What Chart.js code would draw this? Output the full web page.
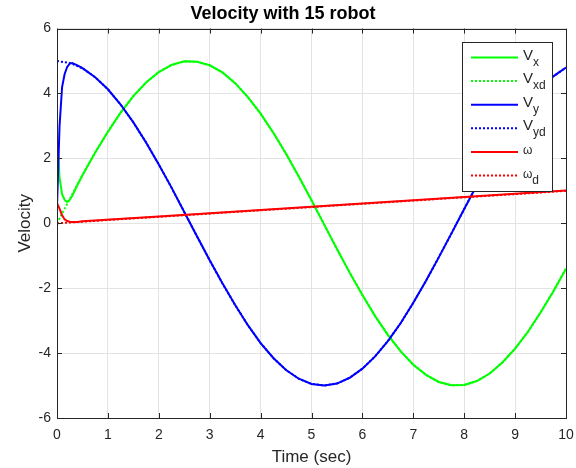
<!DOCTYPE html>
<html>
<head>
<meta charset="utf-8">
<script src="https://cdn.jsdelivr.net/npm/chart.js@4.4.1/dist/chart.umd.min.js"></script>
<style>
  html, body { margin: 0; padding: 0; background: #fff; }
  #wrap { width: 576px; height: 468px; }
</style>
</head>
<body>
<div id="wrap"><canvas id="velChart" width="576" height="468"></canvas></div>
<script>
// Reference trajectories, sampled every 0.25 s
const timeMain = [0, 0.25, 0.5, 0.75, 1, 1.25, 1.5, 1.75, 2, 2.25, 2.5, 2.75, 3, 3.25, 3.5, 3.75, 4, 4.25, 4.5, 4.75,
  5, 5.25, 5.5, 5.75, 6, 6.25, 6.5, 6.75, 7, 7.25, 7.5, 7.75, 8, 8.25, 8.5, 8.75, 9, 9.25, 9.5, 9.75, 10];
const vxdValues = [0, 0.75, 1.48, 2.18, 2.82, 3.41, 3.92, 4.34, 4.66, 4.88, 4.99, 4.98, 4.87, 4.65, 4.32, 3.89, 3.38,
  2.79, 2.14, 1.44, 0.71, -0.04, -0.79, -1.52, -2.21, -2.86, -3.44, -3.94, -4.36, -4.67, -4.89, -4.99, -4.98, -4.86,
  -4.63, -4.29, -3.86, -3.35, -2.75, -2.10, -1.40];
const vydValues = [5, 4.94, 4.78, 4.50, 4.13, 3.66, 3.11, 2.49, 1.81, 1.10, 0.35, -0.40, -1.14, -1.85, -2.52, -3.14,
  -3.69, -4.15, -4.52, -4.79, -4.95, -5.00, -4.94, -4.76, -4.48, -4.10, -3.63, -3.08, -2.45, -1.77, -1.05, -0.31, 0.44,
  1.18, 1.89, 2.56, 3.17, 3.72, 4.17, 4.53, 4.80];

// Start-up transient of the actual robot velocities
const timeStart = [0, 0.02, 0.05, 0.1, 0.15, 0.2, 0.25, 0.3, 0.4];
const vxStart = [3.0, 2.2, 1.4, 0.9, 0.72, 0.66, 0.72, 0.85, 1.18];
const vyStart = [0.5, 1.5, 3.0, 4.2, 4.6, 4.82, 4.92, 4.94, 4.87];
const wStart = [0.5, 0.55, 0.45, 0.25, 0.12, 0.07, 0.05, 0.04, 0.04];

// Angular velocity (nearly linear)
const timeOmega = [0.5, 2, 4, 6, 8, 10];
const wValues = [0.06, 0.21, 0.41, 0.61, 0.81, 1.01];
const timeOmegaRef = [0, 2, 4, 6, 8, 10];
const wdValues = [0, 0.2, 0.4, 0.6, 0.8, 1.0];

const xTicks = [0, 1, 2, 3, 4, 5, 6, 7, 8, 9, 10];
const yTicks = [-6, -4, -2, 0, 2, 4, 6];

const FONT = "'Liberation Sans', Arial, Helvetica, sans-serif";
const AXIS = '#262626';

function zip(ts, vs) {
  return ts.map((t, i) => ({ x: t, y: vs[i] }));
}

// actual = transient + main samples from 0.5 s on
function actual(startVals, mainVals) {
  const pts = zip(timeStart, startVals);
  timeMain.forEach((t, i) => { if (t >= 0.5) pts.push({ x: t, y: mainVals[i] }); });
  return pts;
}

const GREEN = '#00ff00', BLUE = '#0000ff', RED = '#ff0000';

const series = [
  { key: 'V', sub: 'x', color: GREEN, dash: [], data: actual(vxStart, vxdValues) },
  { key: 'V', sub: 'xd', color: GREEN, dash: [2, 2], data: zip(timeMain, vxdValues) },
  { key: 'V', sub: 'y', color: BLUE, dash: [], data: actual(vyStart, vydValues) },
  { key: 'V', sub: 'yd', color: BLUE, dash: [2, 2], data: zip(timeMain, vydValues) },
  { key: '\u03c9', sub: '', color: RED, dash: [], data: zip(timeStart, wStart).concat(zip(timeOmega, wValues)) },
  { key: '\u03c9', sub: 'd', color: RED, dash: [2, 2], data: zip(timeOmegaRef, wdValues) }
];

// box, inner ticks and legend, MATLAB style
const matlabAxes = {
  id: 'matlabAxes',
  afterDraw(chart) {
    const { ctx, chartArea: a, scales } = chart;
    ctx.save();
    ctx.strokeStyle = AXIS;
    ctx.lineWidth = 1;
    ctx.beginPath();
    xTicks.forEach(v => {
      const px = Math.round(scales.x.getPixelForValue(v)) + 0.5;
      ctx.moveTo(px, a.bottom); ctx.lineTo(px, a.bottom - 5);
      ctx.moveTo(px, a.top); ctx.lineTo(px, a.top + 5);
    });
    yTicks.forEach(v => {
      const py = Math.round(scales.y.getPixelForValue(v)) + 0.5;
      ctx.moveTo(a.left, py); ctx.lineTo(a.left + 5, py);
      ctx.moveTo(a.right, py); ctx.lineTo(a.right - 5, py);
    });
    ctx.stroke();
    ctx.strokeRect(Math.round(a.left) + 0.5, Math.round(a.top) + 0.5,
      Math.round(a.right - a.left), Math.round(a.bottom - a.top));

    // legend
    const bx = 462.5, by = 42.5, bw = 90, bh = 149;
    ctx.fillStyle = '#fff';
    ctx.fillRect(bx, by, bw, bh);
    ctx.strokeStyle = AXIS;
    ctx.strokeRect(bx, by, bw, bh);
    series.forEach((s, i) => {
      const y = 57.5 + i * 23.6;
      ctx.strokeStyle = s.color;
      ctx.lineWidth = 2;
      ctx.setLineDash(s.dash);
      ctx.beginPath();
      ctx.moveTo(471, y); ctx.lineTo(518, y);
      ctx.stroke();
      ctx.setLineDash([]);
      ctx.fillStyle = AXIS;
      ctx.textBaseline = 'alphabetic';
      ctx.textAlign = 'left';
      let tx = 523;
      if (s.key === 'V') {
        ctx.font = '15px ' + FONT;
        ctx.fillText('V', tx, y + 2);
        tx += ctx.measureText('V').width;
      } else {
        ctx.font = '12px ' + FONT;
        ctx.fillText(s.key, tx, y + 2);
        tx += ctx.measureText(s.key).width;
      }
      if (s.sub) {
        ctx.font = '12px ' + FONT;
        ctx.fillText(s.sub, tx, y + 8);
      }
    });
    ctx.restore();
  }
};

new Chart(document.getElementById('velChart'), {
  type: 'line',
  data: {
    datasets: series.map((s, i) => ({
      label: s.key + s.sub,
      data: s.data,
      borderColor: s.color,
      borderWidth: 2,
      borderDash: s.dash,
      pointRadius: 0,
      fill: false,
      tension: 0,
      order: series.length - i
    }))
  },
  options: {
    responsive: false,
    animation: false,
    layout: { padding: { left: 0, right: 10, top: 0, bottom: 0 } },
    plugins: {
      legend: { display: false },
      tooltip: { enabled: false },
      title: {
        display: true,
        text: 'Velocity with 15 robot',
        color: '#000',
        font: { family: FONT, size: 18, weight: 'bold' },
        padding: { top: 3, bottom: 4 }
      }
    },
    scales: {
      x: {
        type: 'linear',
        min: 0, max: 10,
        ticks: { stepSize: 1, color: AXIS, font: { family: FONT, size: 14 }, padding: 9, maxRotation: 0 },
        grid: { color: '#e3e3e3', drawTicks: false },
        border: { display: false },
        title: { display: true, text: 'Time (sec)', color: AXIS, font: { family: FONT, size: 17 }, padding: { top: 0, bottom: 0 } },
        afterFit(scale) { scale.height = 50; scale.paddingRight = 0; scale.paddingLeft = 0; }
      },
      y: {
        min: -6, max: 6,
        ticks: { stepSize: 2, color: AXIS, font: { family: FONT, size: 14 }, padding: 6 },
        grid: { color: '#e3e3e3', drawTicks: false },
        border: { display: false },
        title: { display: true, text: 'Velocity', color: AXIS, font: { family: FONT, size: 17 }, padding: { top: 15, bottom: 0 } },
        afterFit(scale) { scale.width = 57; scale.paddingTop = 0; scale.paddingBottom = 0; }
      }
    }
  },
  plugins: [matlabAxes]
});
</script>
</body>
</html>
